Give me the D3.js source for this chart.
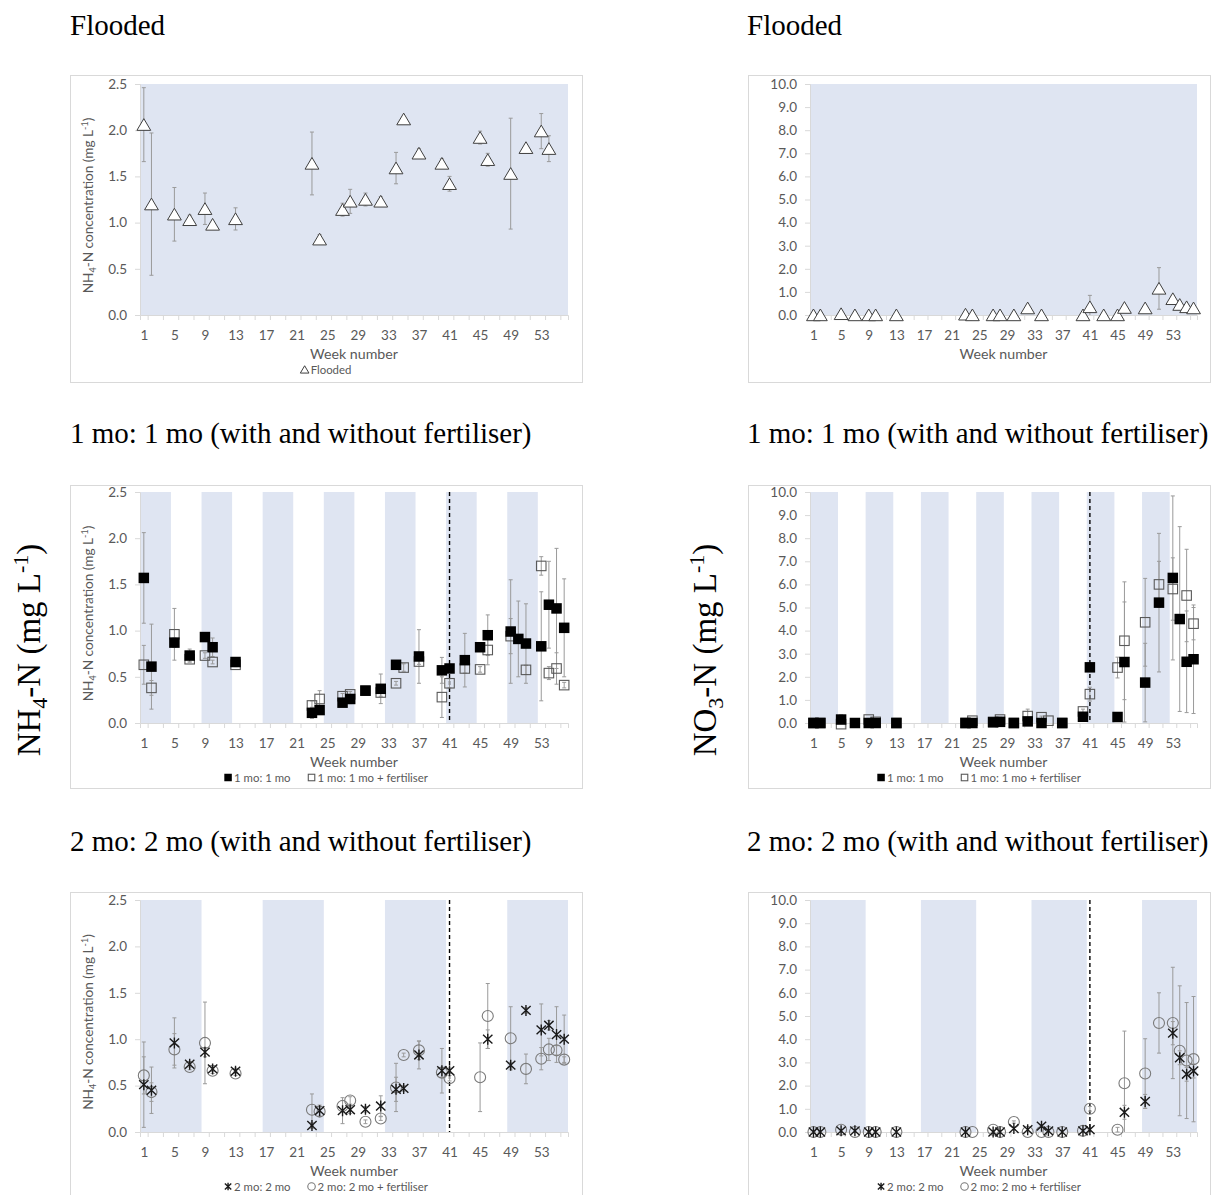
<!DOCTYPE html>
<html><head><meta charset="utf-8">
<script src="https://cdn.jsdelivr.net/npm/d3@7"></script>
<style>body{margin:0;background:#fff}</style>
</head><body><svg id="c" width="1211" height="1195"></svg>
<script>
// ---------------- DATA ----------------
const weekDomain = [0.5, 56.5];
const xTickLabels = [1,5,9,13,17,21,25,29,33,37,41,45,49,53];
const nh4Ticks = [0,0.5,1,1.5,2,2.5];
const no3Ticks = [0,1,2,3,4,5,6,7,8,9,10];
const fertiliserWeek = 41;
const oneMoShadedStarts = [1,9,17,25,33,41,49];
const twoMoShadedStarts = [1,17,33,49];

// Flooded
const floodNH4Weeks = [1,2,5,7,9,10,13,23,24,27,28,30,32,34,35,37,40,41,45,46,49,51,53,54];
const floodNH4Mean  = [2.06,1.20,1.09,1.03,1.15,0.98,1.04,1.64,0.82,1.14,1.23,1.25,1.23,1.59,2.12,1.75,1.64,1.42,1.92,1.68,1.53,1.81,1.99,1.80];
const floodNH4SD    = [0.40,0.77,0.29,0.05,0.17,0.02,0.12,0.34,0.05,0.07,0.13,0.07,0.05,0.17,0.02,0.05,0.05,0.08,0.07,0.07,0.60,0.03,0.19,0.14];

const floodNO3Weeks = [1,2,5,7,9,10,13,23,24,27,28,30,32,34,40,41,43,45,46,49,51,53,54,55,56];
const floodNO3Mean  = [0,0,0.05,0,0,0,0,0.03,0,0,0,0,0.30,0,0,0.35,0,0,0.32,0.30,1.15,0.70,0.45,0.35,0.30];
const floodNO3SD    = [0,0,0,0,0,0,0,0,0,0,0,0,0.10,0,0,0.50,0,0,0.10,0.05,0.90,0.15,0.10,0.10,0.05];

// 1 mo : 1 mo
const oneNH4Weeks = [1,2,5,7,9,10,13,23,24,27,28,30,32,34,37,40,41,43,45,46,49,50,51,53,54,55,56];
const oneNH4Mean  = [1.57,0.61,0.87,0.73,0.93,0.82,0.66,0.11,0.14,0.22,0.26,0.35,0.37,0.63,0.72,0.57,0.59,0.68,0.82,0.95,0.99,0.91,0.86,0.83,1.28,1.24,1.03];
const oneNH4SD    = [0.49,0.46,0.05,0.07,0.03,0.10,0.02,0.06,0.04,0.04,0.05,0.03,0.16,0.03,0.29,0.14,0.03,0.29,0.03,0.22,0.56,0.41,0.43,0.59,0.47,0.65,0.53];
const oneFertNH4Weeks = [1,2,5,7,9,10,13,23,24,27,28,30,32,34,35,37,40,41,43,45,46,49,51,53,54,55,56];
const oneFertNH4Mean  = [0.63,0.38,0.96,0.69,0.73,0.66,0.63,0.19,0.26,0.29,0.31,0.35,0.33,0.43,0.60,0.665,0.28,0.43,0.59,0.58,0.79,0.94,0.575,1.70,0.54,0.59,0.41];
const oneFertNH4SD    = [0.21,0.08,0.28,0.03,0.03,0.02,0.02,0.05,0.09,0.03,0.03,0.02,0.04,0.02,0.04,0.03,0.22,0.05,0.05,0.03,0.16,0.19,0.05,0.10,0.07,0.17,0.03];

const oneNO3Weeks = [1,2,5,7,9,10,13,23,24,27,28,30,32,34,37,40,41,45,46,49,51,53,54,55,56];
const oneNO3Mean  = [0,0,0.15,0,0,0,0,0,0,0.03,0.05,0,0.07,0,0,0.27,2.41,0.26,2.64,1.75,5.21,6.28,4.50,2.65,2.76];
const oneNO3SD    = [0,0,0.2,0,0,0,0,0,0.05,0,0.05,0,0.05,0,0,0.1,0.1,0.1,2.6,1.7,3.0,3.55,4.0,2.2,2.35];
const oneFertNO3Weeks = [1,2,5,9,10,13,23,24,27,28,30,32,34,35,37,40,41,45,46,49,51,53,55,56];
const oneFertNO3Mean  = [0,0,-0.05,0.15,0.05,0,0,0.10,0.05,0.15,0,0.30,0.25,0.10,0,0.50,1.25,2.40,3.56,4.36,6.00,5.80,5.52,4.30];
const oneFertNO3SD    = [0,0,0,0.05,0,0,0,0.05,0,0.1,0,0.3,0.05,0,0,0.1,0.3,0.45,2.55,1.9,1.0,1.35,2.0,0.7];

// 2 mo : 2 mo
const twoNH4Weeks = [1,2,5,7,9,10,13,23,24,27,28,30,32,34,35,37,40,41,46,49,51,53,54,55,56];
const twoNH4Mean  = [0.51,0.45,0.96,0.73,0.86,0.68,0.655,0.07,0.23,0.23,0.24,0.245,0.28,0.46,0.47,0.83,0.66,0.66,1.00,0.72,1.31,1.10,1.15,1.05,1.00];
const twoNH4SD    = [0.46,0.25,0.27,0.03,0.05,0.03,0.02,0.03,0.06,0.14,0.04,0.03,0.11,0.13,0.03,0.15,0.24,0.03,0.10,0.03,0.03,0.28,0.05,0.30,0.26];
const twoFertNH4Weeks = [1,2,5,7,9,10,13,23,24,27,28,30,32,34,35,37,40,41,45,46,49,51,53,54,55,56];
const twoFertNH4Mean  = [0.61,0.43,0.89,0.70,0.96,0.66,0.63,0.24,0.22,0.28,0.34,0.11,0.145,0.48,0.83,0.88,0.64,0.58,0.59,1.25,1.01,0.68,0.79,0.89,0.88,0.78];
const twoFertNH4SD    = [0.20,0.10,0.17,0.03,0.44,0.03,0.02,0.17,0.05,0.06,0.04,0.02,0.02,0.26,0.02,0.10,0.05,0.03,0.37,0.35,0.34,0.16,0.12,0.12,0.05,0.03];

const twoNO3Weeks = [1,2,5,7,9,10,13,23,27,28,30,32,34,35,37,40,41,46,49,53,54,55,56];
const twoNO3Mean  = [0,0,0.05,0.05,0,0,0,0,0,0,0.15,0.10,0.25,0.05,0,0.05,0.10,0.85,1.32,4.26,3.20,2.49,2.63];
const twoNO3SD    = [0,0,0,0,0,0,0,0,0,0,0.05,0,0.05,0,0,0,0,0.3,0.3,0.5,0.3,0.3,0.3];
const twoFertNO3Weeks = [1,2,5,7,9,10,13,23,24,27,28,30,32,34,35,37,40,41,45,46,49,51,53,54,55,56];
const twoFertNO3Mean  = [0,0,0.10,0,0,0,0,0,0,0.10,0,0.43,0,0,0,0,0.05,1.00,0.10,2.10,2.52,4.70,4.70,3.50,3.08,3.14];
const twoFertNO3SD    = [0,0,0,0,0,0,0,0,0,0,0,0.05,0,0,0,0,0,0.1,0.1,2.25,1.5,1.3,2.4,2.8,2.5,2.7];

const titles = ["Flooded", "1 mo: 1 mo (with and without fertiliser)", "2 mo: 2 mo (with and without fertiliser)"];
const legendFlood = ["Flooded"];
const legendOne = ["1 mo: 1 mo", "1 mo: 1 mo + fertiliser"];
const legendTwo = ["2 mo: 2 mo", "2 mo: 2 mo + fertiliser"];

// ---------------- DRAWING ----------------
const svg = d3.select("#c");
const SERIF = "'Liberation Serif','Times New Roman',serif";
const SANS = "Lato,'Open Sans',sans-serif";
const GREY = "#595959";
const BAND = "#dfe5f2";

const cols = [
  {box:[70,582], plot:[140,568], title:70},
  {box:[748,1210], plot:[810,1197], title:747}
];
const rows = [
  {box:[75,382], plot:[84,315], title:35},
  {box:[485,788], plot:[492,723], title:443},
  {box:[892,1205], plot:[900,1132], title:851}
];

function zip(w,m,s){ return w.map((d,i)=>({w:d, m:m[i], s:s[i]})); }

function marker(g, type, sz){
  const s = sz/2;
  if (type==="triangle") g.append("path").attr("d", `M0,${-s*1.0}L${s*1.15},${s*0.95}L${-s*1.15},${s*0.95}Z`).attr("fill","#fff").attr("stroke","#3f3f3f").attr("stroke-width",1);
  else if (type==="sqFill") g.append("rect").attr("x",-s).attr("y",-s).attr("width",sz).attr("height",sz).attr("fill","#000");
  else if (type==="sqOpen") g.append("rect").attr("x",-s+0.5).attr("y",-s+0.5).attr("width",sz-1).attr("height",sz-1).attr("fill","none").attr("stroke","#595959").attr("stroke-width",1.1);
  else if (type==="star") g.append("path").attr("d",`M${-s*0.85},${-s*0.8}L${s*0.85},${s*0.8}M${-s*0.85},${s*0.8}L${s*0.85},${-s*0.8}M0,${-s}L0,${s}`).attr("stroke","#1a1a1a").attr("stroke-width",1.4).attr("fill","none");
  else if (type==="circle") g.append("circle").attr("r",s).attr("fill","none").attr("stroke","#7a7a7a").attr("stroke-width",1.1);
}

function yTitle(g, cx, cy){
  const t = g.append("text").attr("transform",`translate(${cx},${cy}) rotate(-90)`)
    .attr("text-anchor","middle").attr("font-family",SANS).attr("font-size",13.6).attr("fill",GREY);
  t.append("tspan").text("NH");
  t.append("tspan").text("4").attr("font-size",9).attr("dy",3);
  t.append("tspan").text("-N concentration (mg L").attr("dy",-3);
  t.append("tspan").text("-1").attr("font-size",9).attr("dy",-5);
  t.append("tspan").text(")").attr("dy",5);
}

function panel(ci, ri, opt){
  const C = cols[ci], R = rows[ri];
  const g = svg.append("g");
  g.append("rect").attr("x",C.box[0]+0.5).attr("y",R.box[0]+0.5)
    .attr("width",C.box[1]-C.box[0]).attr("height",R.box[1]-R.box[0])
    .attr("fill","#fff").attr("stroke","#d9d9d9").attr("stroke-width",1);
  svg.append("text").attr("x",C.title).attr("y",R.title).text(titles[ri])
    .attr("font-family",SERIF).attr("font-size",29).attr("fill","#000");

  const x = d3.scaleLinear().domain(weekDomain).range(C.plot);
  const y = d3.scaleLinear().domain(opt.yDomain).range([R.plot[1], R.plot[0]]);
  g.selectAll("rect.band").data(opt.bands).join("rect").attr("class","band")
    .attr("x",d=>x(d[0])).attr("width",d=>x(d[1])-x(d[0]))
    .attr("y",R.plot[0]).attr("height",R.plot[1]-R.plot[0]).attr("fill",BAND);
  const ya = g.append("g").attr("transform",`translate(${C.plot[0]},0)`)
    .call(d3.axisLeft(y).tickValues(opt.yTicks).tickSize(5).tickPadding(8).tickFormat(d3.format(".1f")));
  ya.select(".domain").attr("stroke","#d9d9d9");
  ya.selectAll(".tick line").attr("stroke","#d9d9d9");
  ya.selectAll(".tick text").attr("font-family",SANS).attr("font-size",13.5).attr("fill",GREY);
  const xa = g.append("g").attr("transform",`translate(0,${R.plot[1]})`)
    .call(d3.axisBottom(x).tickValues(d3.range(1.5,56,2)).tickSize(5).tickFormat(""));
  xa.select(".domain").attr("stroke","#d9d9d9");
  xa.selectAll(".tick line").attr("stroke","#d9d9d9");
  const xl = g.append("g").attr("transform",`translate(0,${R.plot[1]})`)
    .call(d3.axisBottom(x).tickValues(xTickLabels).tickSize(0).tickPadding(15).tickFormat(d3.format("d")));
  xl.select(".domain").remove();
  xl.selectAll(".tick text").attr("font-family",SANS).attr("font-size",13.5).attr("fill",GREY);
  g.append("text").attr("x",(C.plot[0]+C.plot[1])/2).attr("y",R.plot[1]+44).attr("text-anchor","middle")
    .attr("font-family",SANS).attr("font-size",14.2).attr("fill",GREY).text("Week number");
  if (ci===0) yTitle(g, C.plot[0]-47, (R.plot[0]+R.plot[1])/2+6);
  if (opt.dashed) g.append("line").attr("x1",x(fertiliserWeek)).attr("x2",x(fertiliserWeek))
    .attr("y1",R.plot[0]).attr("y2",R.plot[1]).attr("stroke","#000").attr("stroke-width",1.4).attr("stroke-dasharray","4,3");

  const [ymin,ymax] = opt.yDomain;
  opt.series.forEach(s=>{
    zip(s.weeks,s.mean,s.sd).filter(d=>d.s>0).forEach(d=>{
      const lo = Math.max(ymin,d.m-d.s), hi = Math.min(ymax,d.m+d.s);
      const cx = x(d.w);
      g.append("line").attr("x1",cx).attr("x2",cx).attr("y1",y(lo)).attr("y2",y(hi)).attr("stroke","#9a9a9a").attr("stroke-width",1);
      if (d.m-d.s>=ymin) g.append("line").attr("x1",cx-2).attr("x2",cx+2).attr("y1",y(lo)).attr("y2",y(lo)).attr("stroke","#9a9a9a");
      g.append("line").attr("x1",cx-2).attr("x2",cx+2).attr("y1",y(hi)).attr("y2",y(hi)).attr("stroke","#9a9a9a");
    });
  });
  opt.series.slice().reverse().forEach(s=>{
    zip(s.weeks,s.mean,s.sd).forEach(d=>{
      const mg = g.append("g").attr("transform",`translate(${x(d.w)},${y(d.m)})`);
      marker(mg, s.marker, s.size);
    });
  });
  if (opt.legend) {
    const lg = g.append("g");
    let cur = 0;
    opt.legend.forEach((lab,i)=>{
      const it = lg.append("g").attr("transform",`translate(${cur},0)`);
      const mg = it.append("g").attr("transform","translate(4,-4)");
      marker(mg, opt.series[i].marker, 7.5);
      const t = it.append("text").attr("x",10).attr("y",0).text(lab)
        .attr("font-family",SANS).attr("font-size",11.4).attr("fill",GREY);
      cur += 10 + t.node().getComputedTextLength() + 17;
    });
    cur -= 17;
    lg.attr("transform",`translate(${(C.box[0]+C.box[1])/2 - cur/2},${R.plot[1]+58.5})`);
  }
}

const nh4Dom=[0,2.5], no3Dom=[0,10];
const fullBand=[[0.5,56.5]];
const oneBands = oneMoShadedStarts.map(s=>[s-0.45, s+3.55]);
const twoBands = twoMoShadedStarts.map(s=>[s-0.45, Math.min(56.5,s+7.55)]);

panel(0,0,{yDomain:nh4Dom,yTicks:nh4Ticks,bands:fullBand,dashed:false,legend:legendFlood,
  series:[{weeks:floodNH4Weeks,mean:floodNH4Mean,sd:floodNH4SD,marker:"triangle",size:12}]});
panel(1,0,{yDomain:no3Dom,yTicks:no3Ticks,bands:fullBand,dashed:false,legend:null,
  series:[{weeks:floodNO3Weeks,mean:floodNO3Mean,sd:floodNO3SD,marker:"triangle",size:12}]});
panel(0,1,{yDomain:nh4Dom,yTicks:nh4Ticks,bands:oneBands,dashed:true,legend:legendOne,
  series:[{weeks:oneNH4Weeks,mean:oneNH4Mean,sd:oneNH4SD,marker:"sqFill",size:10.5},
          {weeks:oneFertNH4Weeks,mean:oneFertNH4Mean,sd:oneFertNH4SD,marker:"sqOpen",size:10.5}]});
panel(1,1,{yDomain:no3Dom,yTicks:no3Ticks,bands:oneBands,dashed:true,legend:legendOne,
  series:[{weeks:oneNO3Weeks,mean:oneNO3Mean,sd:oneNO3SD,marker:"sqFill",size:10.5},
          {weeks:oneFertNO3Weeks,mean:oneFertNO3Mean,sd:oneFertNO3SD,marker:"sqOpen",size:10.5}]});
panel(0,2,{yDomain:nh4Dom,yTicks:nh4Ticks,bands:twoBands,dashed:true,legend:legendTwo,
  series:[{weeks:twoNH4Weeks,mean:twoNH4Mean,sd:twoNH4SD,marker:"star",size:11},
          {weeks:twoFertNH4Weeks,mean:twoFertNH4Mean,sd:twoFertNH4SD,marker:"circle",size:11}]});
panel(1,2,{yDomain:no3Dom,yTicks:no3Ticks,bands:twoBands,dashed:true,legend:legendTwo,
  series:[{weeks:twoNO3Weeks,mean:twoNO3Mean,sd:twoNO3SD,marker:"star",size:11},
          {weeks:twoFertNO3Weeks,mean:twoFertNO3Mean,sd:twoFertNO3SD,marker:"circle",size:11}]});

function sideLabel(cx, cy, sub){
  const t = svg.append("text").attr("transform",`translate(${cx},${cy}) rotate(-90)`)
    .attr("text-anchor","middle").attr("font-family",SERIF).attr("font-size",33).attr("fill","#000");
  t.append("tspan").text(sub==="4"?"NH":"NO");
  t.append("tspan").text(sub).attr("font-size",22).attr("dy",7);
  t.append("tspan").text("-N (mg L").attr("dy",-7);
  t.append("tspan").text("-1").attr("font-size",22).attr("dy",-12);
  t.append("tspan").text(")").attr("dy",12);
}
sideLabel(40, 650, "4");
sideLabel(716, 650, "3");
</script></body></html>
